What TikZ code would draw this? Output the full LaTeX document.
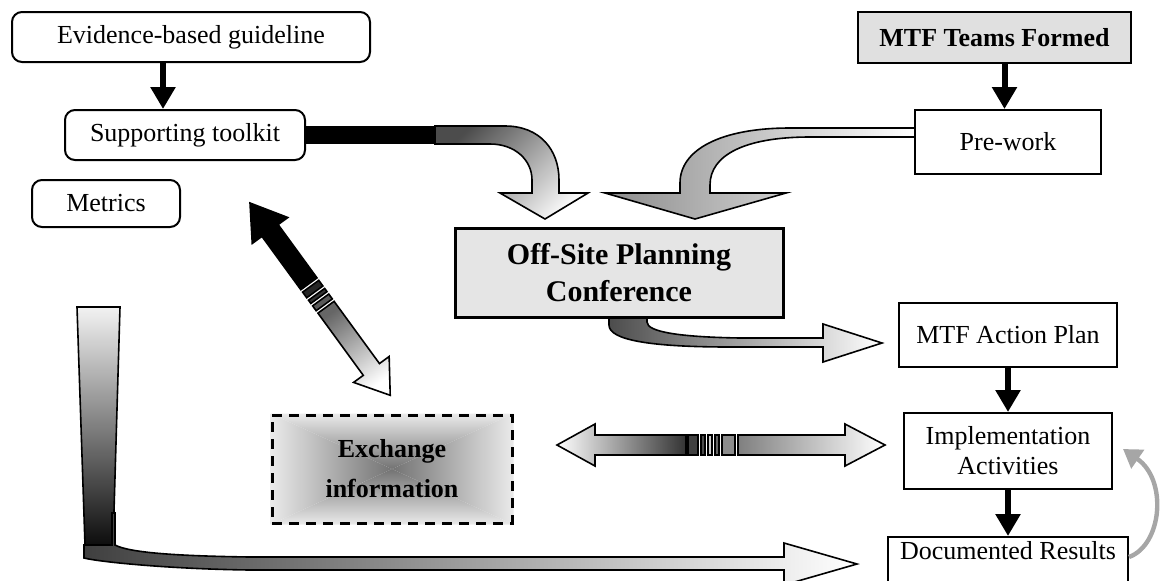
\documentclass[tikz,border=0pt]{standalone}
\usepackage{fontspec}
\setmainfont{Liberation Serif}
\usetikzlibrary{arrows.meta,calc}
\pgfdeclarelayer{background}
\pgfsetlayers{background,main}
\begin{document}
\begin{tikzpicture}[x=0.5pt,y=-0.5pt,
  box/.style={draw=black, line width=1pt, fill=white, align=center, inner sep=2pt, font=\fontsize{13}{15}\selectfont},
  rbox/.style={box, rounded corners=5pt},
  boldtxt/.style={font=\bfseries\fontsize{13}{15}\selectfont},
  blk/.style={line width=3pt, -{Triangle[length=11pt,width=12pt]}},
  outl/.style={draw=black, line width=0.8pt},
]
\useasboundingbox (0,0) rectangle (1161,580);

% ---- block arrows ----
% toolkit -> conference
\fill[black] (305,126) rectangle (435,144);
\path[outl, top color=black!70, bottom color=black!3, shading angle=45]
  (435,126) -- (505,126) .. controls (540,126) and (559,150) .. (559,180) -- (559,193)
  -- (588,193) -- (545,219) -- (500,193) -- (532,193) -- (532,180)
  .. controls (532,160) and (515,144) .. (490,144) -- (435,144) -- cycle;
% pre-work -> conference
\path[outl, left color=black!45, right color=white]
  (915,128) -- (790,128) .. controls (720,128) and (680,150) .. (680,183) -- (680,193)
  -- (605,193) -- (695,219) -- (786,193) -- (710,193) -- (710,185)
  .. controls (710,155) and (745,137) .. (810,137) -- (915,137) -- cycle;
% conference -> action plan
\path[outl, left color=black!70, right color=white]
  (609,317) -- (609,325) .. controls (609,340) and (650,347) .. (730,347) -- (823,347)
  -- (823,362) -- (882,343) -- (823,324) -- (823,338) -- (740,338)
  .. controls (680,337) and (647,332) .. (647,322) -- (647,317) -- cycle;
% horizontal double arrow
\path[outl, left color=white, right color=black!80]
  (557,445) -- (595,424) -- (595,435) -- (686,435) -- (686,455) -- (595,455) -- (595,466) -- cycle;
\path[outl, fill=black!75] (688,435) rectangle (698,455);
\path[outl, fill=black!70] (701,435) rectangle (705,455);
\path[outl, fill=black!20] (708,435) rectangle (712,455);
\path[outl, fill=black!60] (715,435) rectangle (719,455);
\path[outl, fill=black!45] (722,435) rectangle (735,455);
\path[outl, left color=black!50, right color=white]
  (738,435) -- (845,435) -- (845,424) -- (885,445) -- (845,466) -- (845,455) -- (738,455) -- cycle;
% diagonal double arrow
\begin{scope}[shift={(250,203)}, rotate=-53.9]
  \path[outl, fill=black] (0,0) -- (34,22) -- (34,10) -- (100,10) -- (100,-10) -- (34,-10) -- (34,-22) -- cycle;
  \path[outl, fill=black!85] (103,-10) rectangle (110,10);
  \path[outl, fill=black!80] (113,-10) rectangle (117,10);
  \path[outl, fill=black!65] (120,-10) rectangle (126,10);
  \path[outl, top color=black!60, bottom color=white, shading angle=36]
    (129,-10) -- (206,-10) -- (206,-22) -- (238,0) -- (206,22) -- (206,10) -- (129,10) -- cycle;
\end{scope}
% metrics -> documented results
\path[outl, top color=black!5, bottom color=black!95] (77,307) -- (120,307) -- (113,545) -- (85,545) -- cycle;
\path[outl, left color=black!75, right color=white]
  (84,545) -- (112,545) -- (112,513) -- (115,513) -- (115,545)
  .. controls (130,553) and (180,556) .. (250,557) -- (784,557) -- (784,543) -- (857,564)
  -- (784,585) -- (784,570) -- (250,570) .. controls (170,569) and (100,562) .. (84,558) -- cycle;

% ---- nodes ----
\node[rbox, minimum width=179pt, minimum height=25pt] (ev) at (191,37) {Evidence-based guideline};
\node[rbox, minimum width=120pt, minimum height=25pt] (tk) at (185,135) {Supporting toolkit};
\node[rbox, minimum width=74pt, minimum height=23.5pt] (mt) at (106,203.5) {Metrics};
\node[box, boldtxt, fill=black!12, minimum width=136.5pt, minimum height=25.5pt] (mtf) at (994.5,37.5) {MTF Teams Formed};
\node[box, minimum width=93pt, minimum height=32pt] (pw) at (1008,142) {Pre-work};
\node[box, fill=black!10, line width=1.5pt, minimum width=164pt, minimum height=44.5pt,
      font=\bfseries\fontsize{15}{18.5}\selectfont] (os) at (619,272.5) {Off-Site Planning\\Conference};
\node[box, minimum width=109pt, minimum height=32pt] (ap) at (1008,335) {MTF Action Plan};
\node[box, minimum width=104pt, minimum height=38pt] (ia) at (1008,451) {Implementation\\Activities};
\node[box, anchor=north, minimum width=120pt, minimum height=30pt, inner ysep=0pt,
      text height=9pt, text depth=17pt] (dr) at (1008,536) {Documented Results};
\node[draw=black, line width=1.5pt, dash pattern=on 5pt off 3.5pt, align=center,
      minimum width=120pt, minimum height=54pt, font=\bfseries\fontsize{13}{20}\selectfont]
      (ex) at (392,469) {Exchange\\information};
\begin{pgfonlayer}{background}
  \shade[top color=black!8, bottom color=black!55] (ex.north west) -- (ex.north east) -- (ex.center) -- cycle;
  \shade[top color=black!55, bottom color=black!8] (ex.south west) -- (ex.south east) -- (ex.center) -- cycle;
  \shade[left color=black!8, right color=black!55] (ex.north west) -- (ex.south west) -- (ex.center) -- cycle;
  \shade[left color=black!55, right color=black!8] (ex.north east) -- (ex.south east) -- (ex.center) -- cycle;
\end{pgfonlayer}

% ---- connectors ----
\draw[blk] ([xshift=-14pt]ev.south) -- ([xshift=-14pt]ev.south |- tk.north);
\draw[blk] ([xshift=5pt]mtf.south) -- ([xshift=5pt]mtf.south |- pw.north);
\draw[blk] (ap.south) -- (ia.north);
\draw[blk] (ia.south) -- (ia.south |- dr.north);
\coordinate (fbstart) at ($(dr.north east)+(0,21)$);
\coordinate (fbend) at ($(ia.east)+(10,-2)$);
\draw[black!35, line width=2.2pt, -{Triangle[length=9pt,width=11pt]}]
  (fbstart) .. controls (1162,545) and (1168,480) .. (fbend);
\end{tikzpicture}
\end{document}
